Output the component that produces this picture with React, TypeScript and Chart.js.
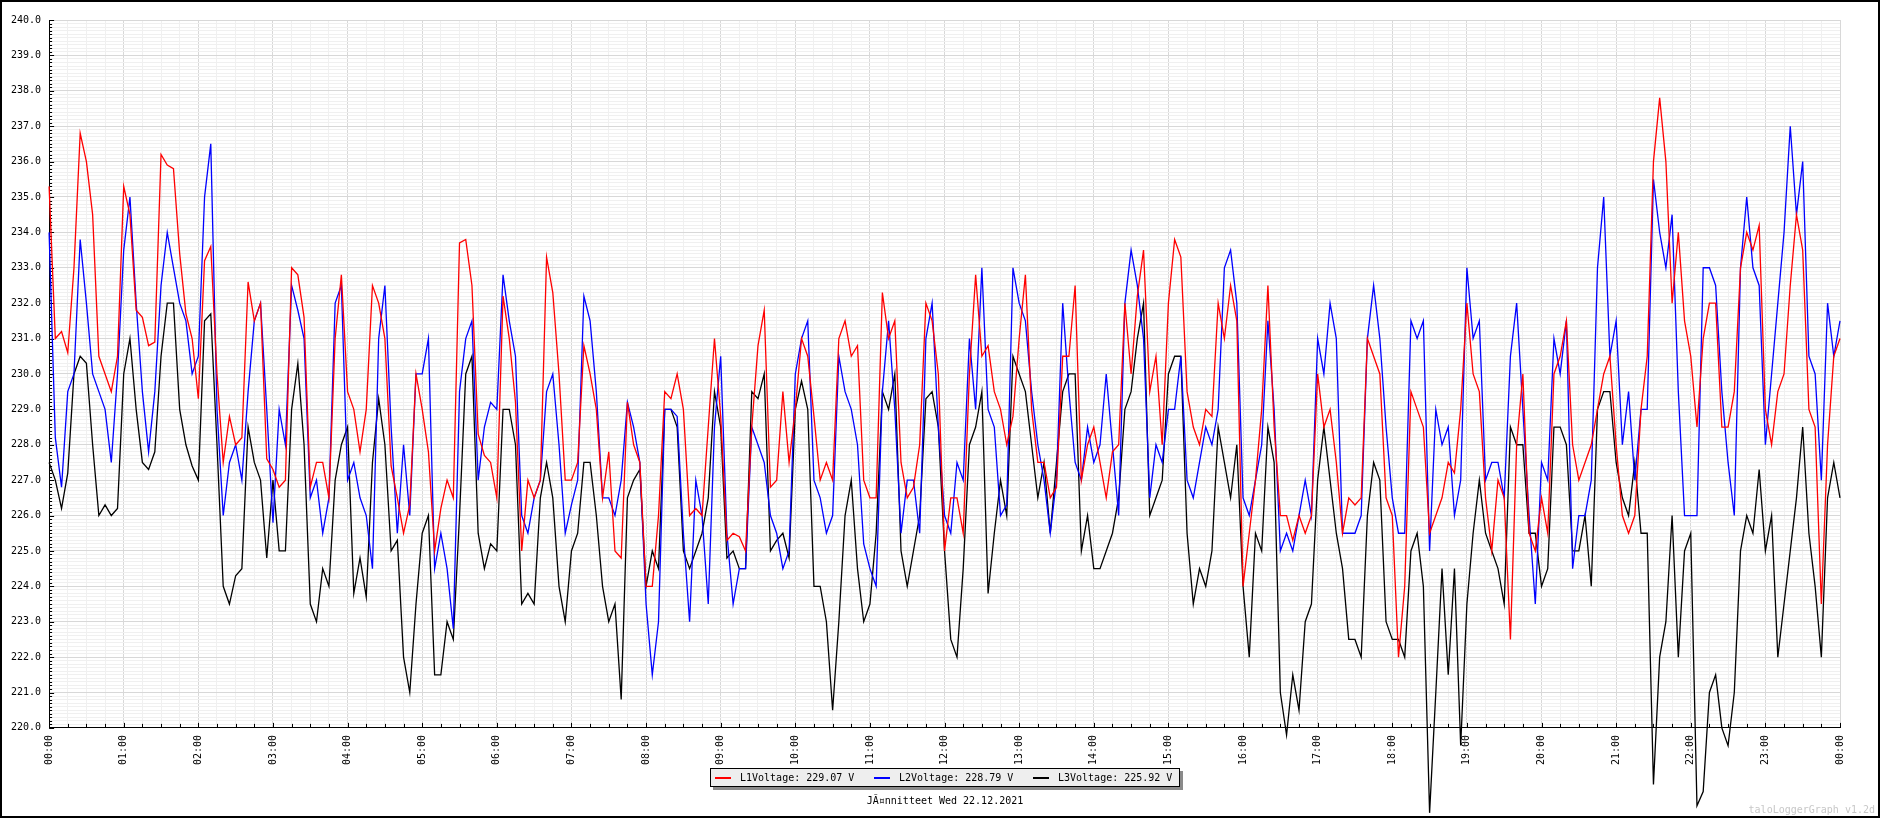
import React, { useEffect, useRef } from 'react';
import { Chart, registerables } from 'chart.js';

Chart.register(...registerables);

// one sample every 5 minutes, 00:00 .. 24:00
const sampleStep = 5;

const l1Voltage = [
  235.3, 231.0, 231.2, 230.6, 233.0, 236.8, 236.0, 234.5, 230.5, 230.0, 229.5, 230.5,
  235.3, 234.5, 231.8, 231.6, 230.8, 230.9, 236.2, 235.9, 235.8, 233.4, 231.7, 231.0,
  229.3, 233.2, 233.6, 230.0, 227.5, 228.8, 228.0, 228.2, 232.6, 231.5, 232.0, 227.6,
  227.3, 226.8, 227.0, 233.0, 232.8, 231.6, 226.8, 227.5, 227.5, 226.5, 231.0, 232.8,
  229.5, 229.0, 227.8, 229.0, 232.5, 232.0, 231.0, 227.4, 226.5, 225.5, 226.3, 230.0,
  229.0, 227.8, 225.0, 226.2, 227.0, 226.5, 233.7, 233.8, 232.5, 228.3, 227.7, 227.5,
  226.5, 232.2, 231.0, 229.2, 225.0, 227.0, 226.5, 227.0, 233.3, 232.3, 230.0, 227.0,
  227.0, 227.5, 230.8, 230.0, 229.0, 226.5, 227.8, 225.0, 224.8, 229.2, 228.0, 227.5,
  224.0, 224.0, 226.0, 229.5, 229.3, 230.0, 229.0, 226.0, 226.2, 226.0, 228.5, 231.0,
  228.8, 225.3, 225.5, 225.4, 225.0, 228.5, 230.8, 231.8, 226.8, 227.0, 229.5, 227.5,
  229.0, 231.0, 230.5, 228.8, 227.0, 227.5, 227.0, 231.0, 231.5, 230.5, 230.8, 227.0,
  226.5, 226.5, 232.3, 231.0, 231.5, 227.5, 226.5, 226.8, 228.0, 232.0, 231.5, 230.0,
  225.0, 226.5, 226.5, 225.5, 230.0, 232.8, 230.5, 230.8, 229.5, 229.0, 228.0, 228.8,
  231.0, 232.8, 229.0, 227.5, 227.5, 226.5, 226.8, 230.5, 230.5, 232.5, 227.0, 228.0,
  228.5, 227.5, 226.5, 227.8, 228.0, 232.0, 230.0, 232.2, 233.5, 229.5, 230.5, 228.0,
  232.0, 233.8, 233.3, 229.5, 228.5, 228.0, 229.0, 228.8, 232.0, 231.0, 232.5, 231.5,
  224.0, 225.5, 227.0, 229.0, 232.5, 228.5, 226.0, 226.0, 225.3, 226.0, 225.5, 226.0,
  230.0, 228.5, 229.0, 227.5, 225.5, 226.5, 226.3, 226.5, 231.0, 230.5, 230.0, 226.5,
  226.0, 222.0, 224.0, 229.5, 229.0, 228.5, 225.5, 226.0, 226.5, 227.5, 227.2, 229.0,
  232.0, 230.0, 229.5, 226.5, 225.0, 227.0, 226.5, 222.5, 228.0, 230.0, 225.5, 225.0,
  226.5, 225.5, 230.0, 230.5, 231.5, 228.0, 227.0, 227.5, 228.0, 229.0, 230.0, 230.5,
  228.0, 226.0, 225.5, 226.0, 229.0, 230.5, 236.0, 237.8, 236.0, 232.0, 234.0, 231.5,
  230.5, 228.5, 231.0, 232.0, 232.0, 228.5, 228.5, 229.5, 233.0, 234.0, 233.5, 234.2,
  229.0, 228.0, 229.5, 230.0, 232.5, 234.5, 233.5, 229.0, 228.5, 223.5, 228.0, 230.5,
  231.0,
];

const l2Voltage = [
  234.0, 228.2, 226.8, 229.5, 230.0, 233.8, 232.0, 230.0, 229.5, 229.0, 227.5, 230.0,
  233.5, 235.0, 232.0, 229.5, 227.8, 229.5, 232.5, 234.0, 233.0, 232.0, 231.5, 230.0,
  230.5, 235.0, 236.5, 229.0, 226.0, 227.5, 228.0, 227.0, 229.5, 231.5, 232.0, 229.0,
  225.8, 229.0, 228.0, 232.5, 231.8, 231.0, 226.5, 227.0, 225.5, 226.5, 232.0, 232.5,
  227.0, 227.5, 226.5, 226.0, 224.5, 231.0, 232.5, 228.5, 225.5, 228.0, 226.0, 230.0,
  230.0, 231.0, 224.5, 225.5, 224.5, 222.8, 229.5, 231.0, 231.5, 227.0, 228.5, 229.2,
  229.0, 232.8, 231.5, 230.5, 226.0, 225.5, 226.5, 227.0, 229.5, 230.0, 228.0, 225.5,
  226.3, 227.0, 232.2, 231.5, 229.5, 226.5, 226.5, 226.0, 227.0, 229.2, 228.5, 227.5,
  223.5, 221.5, 223.0, 229.0, 229.0, 228.8, 225.5, 223.0, 227.0, 226.0, 223.5, 228.5,
  230.5, 225.5, 223.5, 224.5, 224.5, 228.5, 228.0, 227.5, 226.0, 225.5, 224.5, 225.0,
  230.0, 231.0, 231.5, 227.0, 226.5, 225.5, 226.0, 230.5, 229.5, 229.0, 228.0, 225.2,
  224.5, 224.0, 229.5, 231.5, 229.0, 225.5, 227.0, 227.0, 225.5, 231.0, 232.0, 228.5,
  226.0, 225.5, 227.5, 227.0, 231.0, 229.0, 233.0, 229.0, 228.5, 226.0, 226.3, 233.0,
  232.0, 231.5, 229.5, 228.0, 227.0, 225.5, 227.0, 232.0, 229.5, 227.5, 227.0, 228.5,
  227.5, 228.0, 230.0, 228.0, 226.0, 232.0, 233.5, 232.5, 231.0, 226.5, 228.0, 227.5,
  229.0, 229.0, 230.5, 227.0, 226.5, 227.5, 228.5, 228.0, 229.0, 233.0, 233.5, 232.0,
  226.5, 226.0, 227.0, 228.0, 231.5, 229.0, 225.0, 225.5, 225.0, 226.0, 227.0, 226.0,
  231.0, 230.0, 232.0, 231.0, 225.5, 225.5, 225.5, 226.0, 231.0, 232.5, 231.0, 228.5,
  226.5, 225.5, 225.5, 231.5, 231.0, 231.5, 225.0, 229.0, 228.0, 228.5, 226.0, 227.0,
  233.0, 231.0, 231.5, 227.0, 227.5, 227.5, 226.5, 230.5, 232.0, 229.0, 226.0, 223.5,
  227.5, 227.0, 231.0, 230.0, 231.5, 224.5, 226.0, 226.0, 227.0, 233.0, 235.0, 230.5,
  231.5, 228.0, 229.5, 227.0, 229.0, 229.0, 235.5, 234.0, 233.0, 234.5, 229.5, 226.0,
  226.0, 226.0, 233.0, 233.0, 232.5, 229.5, 227.5, 226.0, 233.0, 235.0, 233.0, 232.5,
  228.0, 230.0, 232.0, 234.0, 237.0, 234.5, 236.0, 230.5, 230.0, 227.0, 232.0, 230.5,
  231.5,
];

const l3Voltage = [
  227.5, 227.0, 226.2, 227.2, 230.0, 230.5, 230.3, 228.0, 226.0, 226.3, 226.0, 226.2,
  230.0, 231.0, 229.0, 227.5, 227.3, 227.8, 230.5, 232.0, 232.0, 229.0, 228.0, 227.4,
  227.0, 231.5, 231.7, 228.0, 224.0, 223.5, 224.3, 224.5, 228.5, 227.5, 227.0, 224.8,
  227.0, 225.0, 225.0, 229.0, 230.3, 228.0, 223.5, 223.0, 224.5, 224.0, 227.0, 228.0,
  228.5, 223.8, 224.8, 223.7, 227.5, 229.3, 228.0, 225.0, 225.3, 222.0, 221.0, 223.5,
  225.5, 226.0, 221.5, 221.5, 223.0, 222.5, 226.0, 230.0, 230.5, 225.5, 224.5, 225.2,
  225.0, 229.0, 229.0, 228.0, 223.5, 223.8, 223.5, 226.5, 227.5, 226.5, 224.0, 223.0,
  225.0, 225.5, 227.5, 227.5, 226.0, 224.0, 223.0, 223.5, 220.8, 226.5, 227.0, 227.3,
  224.0, 225.0, 224.5, 229.0, 229.0, 228.5, 225.0, 224.5, 225.0, 225.5, 226.5, 229.5,
  228.5, 224.8, 225.0, 224.5, 224.5, 229.5, 229.3, 230.0, 225.0, 225.3, 225.5, 224.8,
  229.0, 229.8, 229.0, 224.0, 224.0, 223.0, 220.5, 223.0, 226.0, 227.0, 224.5, 223.0,
  223.5, 225.5, 229.5, 229.0, 230.0, 225.0, 224.0, 225.0, 226.0, 229.3, 229.5, 228.5,
  225.0, 222.5, 222.0, 224.5, 228.0, 228.5, 229.5, 223.8, 225.5, 227.0, 226.0, 230.5,
  230.0, 229.5, 228.0, 226.5, 227.5, 225.5, 227.5, 229.5, 230.0, 230.0, 225.0, 226.0,
  224.5, 224.5, 225.0, 225.5, 226.5, 229.0, 229.5, 231.0, 232.0, 226.0, 226.5, 227.0,
  230.0, 230.5, 230.5, 225.5, 223.5, 224.5, 224.0, 225.0, 228.5, 227.5, 226.5, 228.0,
  224.0, 222.0, 225.5, 225.0, 228.5, 227.5, 221.0, 219.8, 221.5, 220.5, 223.0, 223.5,
  227.0, 228.5, 227.0, 225.5, 224.5, 222.5, 222.5, 222.0, 226.0, 227.5, 227.0, 223.0,
  222.5, 222.5, 222.0, 225.0, 225.5, 224.0, 217.6, 221.0, 224.5, 221.5, 224.5, 219.5,
  223.5, 225.5, 227.0, 225.5, 225.0, 224.5, 223.5, 228.5, 228.0, 228.0, 225.5, 225.5,
  224.0, 224.5, 228.5, 228.5, 228.0, 225.0, 225.0, 226.0, 224.0, 229.0, 229.5, 229.5,
  227.5, 226.5, 226.0, 227.5, 225.5, 225.5, 218.4, 222.0, 223.0, 226.0, 222.0, 225.0,
  225.5, 217.8, 218.2, 221.0, 221.5, 220.0, 219.5, 221.0, 225.0, 226.0, 225.5, 227.3,
  225.0, 226.0, 222.0, 223.5, 225.0, 226.5, 228.5, 225.5, 224.0, 222.0, 226.5, 227.5,
  226.5,
];

const hourLabels = [
  '00:00', '01:00', '02:00', '03:00', '04:00', '05:00', '06:00', '07:00', '08:00',
  '09:00', '10:00', '11:00', '12:00', '13:00', '14:00', '15:00', '16:00', '17:00',
  '18:00', '19:00', '20:00', '21:00', '22:00', '23:00', '00:00',
];

const legendLabels = ['L1Voltage: 229.07 V', 'L2Voltage: 228.79 V', 'L3Voltage: 225.92 V'];
const seriesColors = ['#ff0000', '#0000ff', '#000000'];
const caption = 'JÃ¤nnitteet Wed 22.12.2021';
const watermark = 'taloLoggerGraph v1.2d';

const FONT = '10px "DejaVu Sans Mono", monospace';

const decorPlugin = {
  id: 'decor',
  beforeDraw(chart: any) {
    const { ctx, width, height } = chart;
    ctx.save();
    ctx.fillStyle = '#ffffff';
    ctx.fillRect(0, 0, width, height);
    ctx.restore();
  },
  beforeDatasetsDraw(chart: any) {
    const { ctx, chartArea, scales } = chart;
    const x = scales.x;
    const y = scales.y;
    ctx.save();
    ctx.strokeStyle = '#000000';
    ctx.lineWidth = 1;
    ctx.beginPath();
    for (let i = 0; i <= 200; i++) {
      const v = 220 + i / 10;
      const py = Math.round(y.getPixelForValue(v)) + 0.5;
      const len = i % 10 === 0 ? 5 : 3;
      ctx.moveTo(chartArea.left, py);
      ctx.lineTo(chartArea.left + len, py);
    }
    for (let m = 0; m <= 1440; m += 15) {
      const px = Math.round(x.getPixelForValue(m)) + 0.5;
      const len = m % 60 === 0 ? 5 : 4;
      ctx.moveTo(px, chartArea.bottom);
      ctx.lineTo(px, chartArea.bottom - len);
    }
    ctx.stroke();
    ctx.restore();
  },
  afterDraw(chart: any) {
    const { ctx, width, height, chartArea } = chart;
    const cx = Math.round((chartArea.left + chartArea.right) / 2);
    ctx.save();
    ctx.font = FONT;
    ctx.textBaseline = 'middle';

    // legend box
    const boxW = 470;
    const boxH = 19;
    const bx = cx - boxW / 2;
    const by = 768;
    ctx.fillStyle = '#8a8a8a';
    ctx.fillRect(bx + 3, by + 3, boxW, boxH);
    ctx.fillStyle = '#eeeeee';
    ctx.fillRect(bx, by, boxW, boxH);
    ctx.strokeStyle = '#000000';
    ctx.lineWidth = 1;
    ctx.strokeRect(bx + 0.5, by + 0.5, boxW - 1, boxH - 1);
    const slot = 159;
    legendLabels.forEach((label, i) => {
      const sx = bx + 5 + i * slot;
      ctx.strokeStyle = seriesColors[i];
      ctx.lineWidth = 2;
      ctx.beginPath();
      ctx.moveTo(sx, by + 10);
      ctx.lineTo(sx + 16, by + 10);
      ctx.stroke();
      ctx.fillStyle = '#000000';
      ctx.textAlign = 'left';
      ctx.fillText(label, sx + 25, by + 10);
    });

    // caption
    ctx.fillStyle = '#000000';
    ctx.textAlign = 'center';
    ctx.fillText(caption, cx, 801);

    // watermark
    ctx.fillStyle = '#c8c8c8';
    ctx.textAlign = 'right';
    ctx.fillText(watermark, width - 5, height - 8);

    // frame
    ctx.strokeStyle = '#000000';
    ctx.lineWidth = 2;
    ctx.strokeRect(1, 1, width - 2, height - 2);
    ctx.restore();
  },
};

const toPoints = (values: number[]) => values.map((v, i) => ({ x: i * sampleStep, y: v }));

const App: React.FC = () => {
  const canvasRef = useRef<HTMLCanvasElement>(null);
  const chartRef = useRef<Chart | null>(null);

  useEffect(() => {
    document.body.style.margin = '0';
    if (!canvasRef.current) return;
    if (chartRef.current) chartRef.current.destroy();

    const series = [l1Voltage, l2Voltage, l3Voltage];
    chartRef.current = new Chart(canvasRef.current, {
      type: 'line',
      data: {
        datasets: series.map((values, i) => ({
          label: legendLabels[i],
          data: toPoints(values),
          borderColor: seriesColors[i],
          borderWidth: 1.3,
          pointRadius: 0,
          tension: 0,
          fill: false,
          clip: false as any,
        })),
      },
      options: {
        animation: false,
        responsive: false,
        devicePixelRatio: 1,
        events: [],
        layout: { padding: { left: 3, right: 40, top: 20, bottom: 46 } },
        plugins: {
          legend: { display: false },
          tooltip: { enabled: false },
          title: { display: false },
        },
        scales: {
          x: {
            type: 'linear',
            min: 0,
            max: 1440,
            border: { display: true, color: '#000000', width: 1 },
            grid: {
              drawTicks: false,
              color: (c: any) => (c.tick && c.tick.value % 60 === 0 ? '#d8d8d8' : '#f0f0f0'),
            },
            ticks: {
              stepSize: 15,
              autoSkip: false,
              minRotation: 90,
              maxRotation: 90,
              padding: 7,
              color: '#000000',
              font: { family: '"DejaVu Sans Mono", monospace', size: 10 },
              callback: (value: any) => (Number(value) % 60 === 0 ? hourLabels[Number(value) / 60] : ''),
            },
          },
          y: {
            type: 'linear',
            min: 220,
            max: 240,
            border: { display: true, color: '#000000', width: 1 },
            grid: {
              drawTicks: false,
              color: (c: any) =>
                c.tick && Math.abs(c.tick.value - Math.round(c.tick.value)) < 1e-6 ? '#d8d8d8' : '#f0f0f0',
            },
            ticks: {
              stepSize: 0.1,
              autoSkip: false,
              padding: 8,
              color: '#000000',
              font: { family: '"DejaVu Sans Mono", monospace', size: 10 },
              callback: (value: any) => {
                const v = Number(value);
                return Math.abs(v - Math.round(v)) < 1e-6 ? v.toFixed(1) : '';
              },
            },
          },
        },
      },
      plugins: [decorPlugin],
    });

    return () => {
      if (chartRef.current) {
        chartRef.current.destroy();
        chartRef.current = null;
      }
    };
  }, []);

  return <canvas ref={canvasRef} width={1880} height={818} style={{ display: 'block' }} />;
};

export default App;
